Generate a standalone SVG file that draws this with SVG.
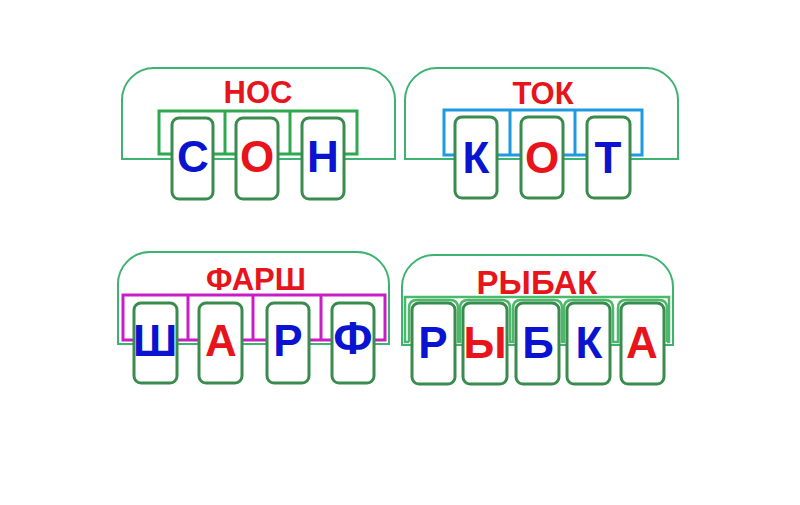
<svg xmlns="http://www.w3.org/2000/svg" width="800" height="505" viewBox="0 0 800 505">
<style>
.arch{fill:none;stroke:#3cb371;stroke-width:2}
.br{fill:none;stroke-width:3}
.g{stroke:#2fa84f}
.b{stroke:#1e9be0}
.m{stroke:#c81ec8}
.lg{stroke:#4cb86a;stroke-width:2.5}
.tile{fill:#fff;stroke:#3a8c4e;stroke-width:3}
.t{font-family:"Liberation Sans",Arial,sans-serif;font-weight:bold;text-anchor:middle}
.title{font-size:31px;fill:#e8141c}
.L{font-size:44px}
.bl{fill:#0a14d0}
.rd{fill:#e8141c}
</style>
<rect width="800" height="505" fill="#fff"/>
<g id="connectors">
<path class="arch" d="M122,159 V100 A32,32 0 0 1 154,68 H363 A32,32 0 0 1 395,100 V159 Z"/>
<path class="arch" d="M405,159 V100 A32,32 0 0 1 437,68 H646 A32,32 0 0 1 678,100 V159 Z"/>
<path class="arch" d="M118,344 V284 A32,32 0 0 1 150,252 H357 A32,32 0 0 1 389,284 V344 Z"/>
<path class="arch" d="M402,345 V287 A32,32 0 0 1 434,255 H641 A32,32 0 0 1 673,287 V345 Z"/>
<path class="br g" d="M159,154 V111 H357 V154 Z M225,111 V154 M290,111 V154"/>
<path class="br b" d="M444,155 V110 H642 V155 Z M510,110 V155 M575,110 V155"/>
<path class="br m" d="M123,340 V295 H385 V340 Z M188,295 V340 M253,295 V340 M321,295 V340"/>
<path class="br lg" d="M409,342 H405 V297 H669 V342 H667"/>
<path class="br lg" d="M409,342 V308 Q409,300 417,300 H450 Q458,300 458,308 V342 H460 V308 Q460,300 468,300 H502 Q510,300 510,308 V342 H513 V308 Q513,300 521,300 H554 Q562,300 562,308 V342 H564 V308 Q564,300 572,300 H605 Q613,300 613,308 V342 H618 V308 Q618,300 626,300 H659 Q667,300 667,308 V342"/>
</g>
<g id="p1">
<text class="t title" x="258" y="103">НОС</text>
<rect class="tile" x="172" y="118" width="41" height="81" rx="7"/>
<rect class="tile" x="236" y="118" width="42" height="81" rx="7"/>
<rect class="tile" x="302" y="118" width="42" height="81" rx="7"/>
<text class="t L bl" x="193" y="172">С</text>
<text class="t L rd" x="257" y="172">О</text>
<text class="t L bl" x="323" y="172">Н</text>
</g>
<g id="p2">
<text class="t title" x="543" y="104">ТОК</text>
<rect class="tile" x="455" y="117" width="42" height="81" rx="7"/>
<rect class="tile" x="521" y="117" width="42" height="81" rx="7"/>
<rect class="tile" x="587" y="117" width="43" height="81" rx="7"/>
<text class="t L bl" x="476" y="173">К</text>
<text class="t L rd" x="542" y="173">О</text>
<text class="t L bl" x="608" y="173">Т</text>
</g>
<g id="p3">
<text class="t title" x="256" y="290">ФАРШ</text>
<rect class="tile" x="134" y="303" width="43" height="80" rx="7"/>
<rect class="tile" x="199" y="303" width="43" height="80" rx="7"/>
<rect class="tile" x="267" y="303" width="42" height="80" rx="7"/>
<rect class="tile" x="332" y="303" width="42" height="80" rx="7"/>
<text class="t L bl" x="155" y="356">Ш</text>
<text class="t L rd" x="221" y="356">А</text>
<text class="t L bl" x="288" y="356">Р</text>
<text class="t L bl" x="353" y="354" style="font-size:46px">Ф</text>
</g>
<g id="p4">
<text class="t title" x="537" y="294" style="font-size:33px">РЫБАК</text>
<rect class="tile" x="412" y="303" width="43" height="81" rx="7"/>
<rect class="tile" x="463" y="303" width="44" height="81" rx="7"/>
<rect class="tile" x="516" y="303" width="43" height="81" rx="7"/>
<rect class="tile" x="567" y="303" width="43" height="81" rx="7"/>
<rect class="tile" x="621" y="303" width="43" height="81" rx="7"/>
<text class="t L bl" x="433" y="358">Р</text>
<text class="t L rd" x="485" y="358">Ы</text>
<text class="t L bl" x="538" y="358">Б</text>
<text class="t L bl" x="589" y="358">К</text>
<text class="t L rd" x="642" y="358">А</text>
</g>
</svg>
